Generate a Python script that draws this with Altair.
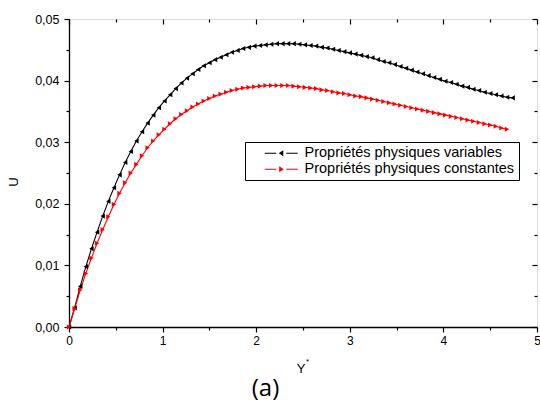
import altair as alt
import pandas as pd

# Velocity profiles U(Y*) sampled every 0.06
STEP = 0.06
u_variables = [
    0.0000, 0.0031, 0.0066, 0.0098, 0.0127, 0.0154, 0.0180, 0.0204, 0.0226, 0.0247,
    0.0267, 0.0285, 0.0302, 0.0317, 0.0331, 0.0344, 0.0356, 0.0367, 0.0377, 0.0387,
    0.0396, 0.0404, 0.0411, 0.0418, 0.0424, 0.0429, 0.0434, 0.0438, 0.0442, 0.0446,
    0.0449, 0.0452, 0.0454, 0.0456, 0.0457, 0.0458, 0.0459, 0.0460, 0.0460, 0.0460,
    0.0460, 0.0459, 0.0458, 0.0457, 0.0456, 0.0454, 0.0453, 0.0451, 0.0449, 0.0447,
    0.0445, 0.0443, 0.0441, 0.0439, 0.0437, 0.0434, 0.0431, 0.0429, 0.0426, 0.0423,
    0.0420, 0.0417, 0.0414, 0.0411, 0.0408, 0.0405, 0.0402, 0.0399, 0.0397, 0.0394,
    0.0391, 0.0389, 0.0386, 0.0384, 0.0381, 0.0379, 0.0377, 0.0375, 0.0373, 0.0372,
]
u_constantes = [
    0.0000, 0.0030, 0.0060, 0.0087, 0.0112, 0.0136, 0.0158, 0.0179, 0.0199, 0.0217,
    0.0234, 0.0250, 0.0264, 0.0278, 0.0291, 0.0302, 0.0312, 0.0321, 0.0330, 0.0338,
    0.0345, 0.0351, 0.0357, 0.0362, 0.0367, 0.0371, 0.0375, 0.0378, 0.0381, 0.0384,
    0.0386, 0.0388, 0.0389, 0.0390, 0.0391, 0.0392, 0.0392, 0.0392, 0.0392, 0.0392,
    0.0391, 0.0390, 0.0389, 0.0388, 0.0387, 0.0385, 0.0384, 0.0382, 0.0380, 0.0379,
    0.0377, 0.0375, 0.0374, 0.0372, 0.0370, 0.0368, 0.0366, 0.0364, 0.0362, 0.0360,
    0.0358, 0.0356, 0.0354, 0.0352, 0.0350, 0.0348, 0.0346, 0.0344, 0.0342, 0.0340,
    0.0338, 0.0336, 0.0334, 0.0332, 0.0330, 0.0328, 0.0326, 0.0323, 0.0321,
]
series_names = ["Propriétés physiques variables", "Propriétés physiques constantes"]
series_colors = ["black", "red"]
marker_shapes = ["triangle-left", "triangle-right"]
# legend glyphs (dash, triangle, dash), in symbol units
glyph_left = "M-3.3,0L-1,0M1,0L3.3,0M0.3,-0.4L-0.3,0L0.3,0.4Z"
glyph_right = "M-3.3,0L-1,0M1,0L3.3,0M-0.3,-0.4L0.3,0L-0.3,0.4Z"
x_ticks = [0, 1, 2, 3, 4, 5]
x_minor = [0.5, 1.5, 2.5, 3.5, 4.5]
y_ticks = [0.0, 0.01, 0.02, 0.03, 0.04, 0.05]
y_minor = [0.005, 0.015, 0.025, 0.035, 0.045]

rows = []
for name, vals in zip(series_names, [u_variables, u_constantes]):
    for i, v in enumerate(vals):
        rows.append({"Y": round(i * STEP, 2), "U": v, "serie": name})
df = pd.DataFrame(rows)

FONT = "Liberation Sans"
W, H = 468, 308
xs = alt.Scale(domain=[0, 5], nice=False, zero=False)
ys = alt.Scale(domain=[0, 0.05], nice=False, zero=False)
base = alt.Chart(df)


def axis(orient, values, size, labels=False, domain=False, offset=0, **kw):
    return alt.Axis(
        orient=orient, values=values, tickSize=size, tickWidth=1.2, tickColor="black",
        domain=domain, domainColor="black", domainWidth=1.3, labels=labels,
        grid=False, title=None, offset=offset, labelFont=FONT, labelColor="black",
        labelFlush=False, labelOverlap=False, **kw,
    )


def axis_layer(x_axis, y_axis):
    return base.mark_point(opacity=0).encode(
        x=alt.X("Y:Q", scale=xs, axis=x_axis),
        y=alt.Y("U:Q", scale=ys, axis=y_axis),
    )


main_axes = axis_layer(
    axis("bottom", x_ticks, 5, labels=True, domain=True, labelFontSize=12, labelPadding=3),
    axis("left", y_ticks, 5, labels=True, domain=True, labelFontSize=12.5, labelPadding=5,
         labelExpr="replace(format(datum.value, '.2f'), '.', ',')"),
)
minor_axes = axis_layer(axis("bottom", x_minor, 3), axis("left", y_minor, 3))
top_right = axis_layer(axis("top", x_ticks, 5, offset=-5), axis("right", y_ticks, 5, offset=-5))
top_right_minor = axis_layer(axis("top", x_minor, 3, offset=-3), axis("right", y_minor, 3, offset=-3))

x_enc = alt.X("Y:Q", scale=xs, axis=None)
y_enc = alt.Y("U:Q", scale=ys, axis=None)
color_scale = alt.Scale(domain=series_names, range=series_colors)

legend = alt.Legend(
    orient="none", legendX=176, legendY=123, title=None,
    strokeColor="black", fillColor="white", padding=4,
    symbolOffset=25, symbolSize=100, symbolStrokeWidth=1.1,
    symbolType=alt.ExprRef(expr=f"datum.index === 0 ? '{glyph_left}' : '{glyph_right}'"),
    symbolFillColor=alt.ExprRef(expr="datum.index === 0 ? 'black' : 'red'"),
    labelOffset=16, labelFont=FONT, labelFontSize=14.5, labelColor="black",
    labelLimit=400, rowPadding=1, labelExpr="datum.label + '  '",
)

lines = base.mark_line(strokeWidth=1.1).encode(
    x=x_enc, y=y_enc,
    color=alt.Color("serie:N", scale=color_scale, legend=legend),
    detail="serie:N",
)

markers = [
    base.transform_filter(alt.datum.serie == name).mark_point(
        shape=shape, filled=True, size=26, color=col, opacity=1
    ).encode(x=x_enc, y=y_enc)
    for name, shape, col in zip(series_names, marker_shapes, series_colors)
]

one = alt.Data(values=[{}])
y_title = alt.Chart(one).mark_text(text="U", font=FONT, fontSize=13, angle=270, color="black").encode(
    x=alt.value(-55), y=alt.value(163))
x_title = alt.Chart(one).mark_text(text="Y", font=FONT, fontSize=13, color="black").encode(
    x=alt.value(232), y=alt.value(350))
x_title_star = alt.Chart(one).mark_text(text="*", font=FONT, fontSize=8, color="black").encode(
    x=alt.value(238.5), y=alt.value(343))
panel = alt.Chart(one).mark_text(text="(a)", font="Open Sans", fontSize=24, color="black").encode(
    x=alt.value(196.5), y=alt.value(370))

chart = alt.layer(
    main_axes, minor_axes, top_right, top_right_minor,
    lines, *markers,
    y_title, x_title, x_title_star, panel,
).resolve_axis(x="independent", y="independent").properties(
    width=W, height=H,
    autosize=alt.AutoSizeParams(type="none"),
    padding={"left": 69, "top": 19, "right": 3, "bottom": 76},
).configure_view(stroke="black", strokeWidth=1.3).configure(background="white")

chart.save("out.html", embed_options={"renderer": "svg", "actions": False})
